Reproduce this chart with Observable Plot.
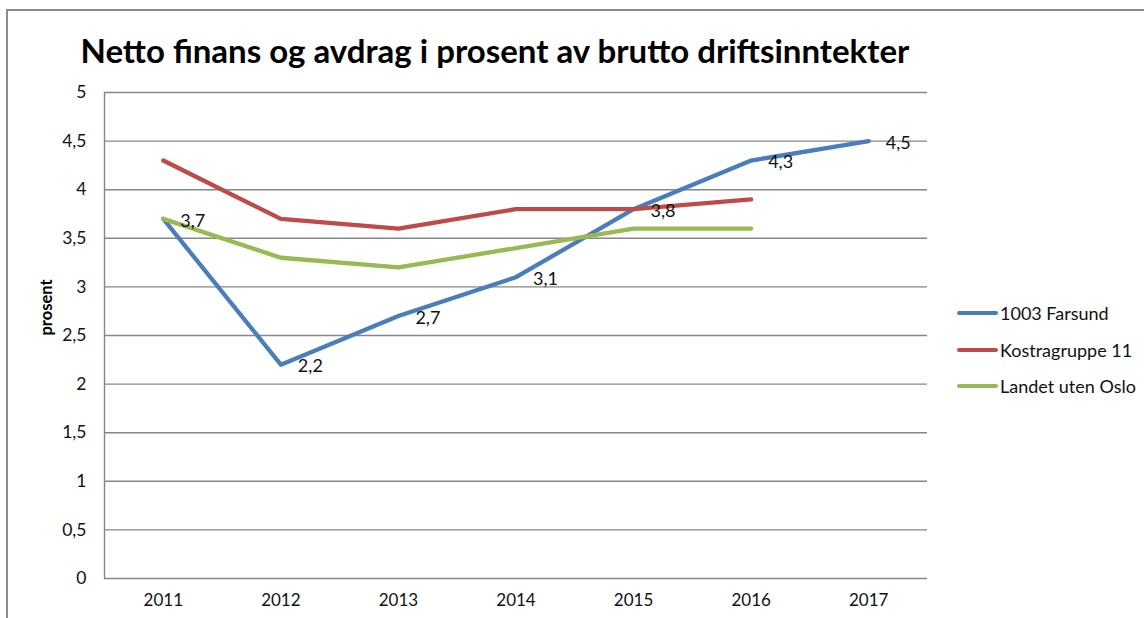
<!DOCTYPE html>
<html>
<head>
<meta charset="utf-8">
<script src="https://cdn.jsdelivr.net/npm/d3@7"></script>
<script src="https://cdn.jsdelivr.net/npm/@observablehq/plot@0.6"></script>
<style>
  html, body { margin: 0; padding: 0; background: #fff; }
  #wrap { position: relative; width: 1144px; height: 618px; overflow: hidden; font-family: Lato, "Open Sans", sans-serif; }
  #border { position: absolute; left: 6px; top: 9px; width: 1200px; height: 700px; border-left: 2px solid #8a8a8a; border-top: 2px solid #8a8a8a; box-sizing: border-box; }
  #chart { position: absolute; left: 0; top: 0; }
  #legend { position: absolute; left: 957px; top: 295px; font-size: 18px; color: #111; white-space: nowrap; }
  .item { display: flex; align-items: center; height: 36.5px; }
  .sw { width: 41px; height: 4px; border-radius: 2px; margin-right: 2px; }
</style>
</head>
<body>
<div id="wrap">
  <div id="border"></div>
  <div id="chart"></div>
  <div id="legend"></div>
</div>
<script>
const titleText = "Netto finans og avdrag i prosent av brutto driftsinntekter";
const yLabel = "prosent";
const years = [2011, 2012, 2013, 2014, 2015, 2016, 2017];
const seriesNames = ["1003 Farsund", "Kostragruppe 11", "Landet uten Oslo"];
const seriesColors = ["#4A7EBB", "#BE4B48", "#98B954"];
const farsund = [3.7, 2.2, 2.7, 3.1, 3.8, 4.3, 4.5];
const kostra = [4.3, 3.7, 3.6, 3.8, 3.8, 3.9];
const landet = [3.7, 3.3, 3.2, 3.4, 3.6, 3.6];
const yTicks = [0, 0.5, 1, 1.5, 2, 2.5, 3, 3.5, 4, 4.5, 5];
const xDomain = [2010.5, 2017.5];

const allValues = [farsund, kostra, landet];
const rows = [];
allValues.forEach((vals, i) => vals.forEach((v, j) => rows.push({series: seriesNames[i], year: years[j], value: v})));
const farsundRows = rows.filter(d => d.series === seriesNames[0]);
const fmt = v => String(v).replace(".", ",");

const chart = Plot.plot({
  width: 1144,
  height: 618,
  marginLeft: 104,
  marginRight: 217,
  marginTop: 92,
  marginBottom: 40,
  style: {fontFamily: "Lato, 'Open Sans', sans-serif", fontSize: "16px", color: "#111", background: "transparent", overflow: "visible"},
  x: {domain: xDomain, ticks: years},
  y: {domain: [0, 5], ticks: yTicks},
  color: {domain: seriesNames, range: seriesColors},
  marks: [
    Plot.gridY(yTicks, {stroke: "#868686", strokeOpacity: 1, strokeWidth: 1.4}),
    Plot.ruleX([xDomain[0]], {y1: 0, y2: 5, stroke: "#868686", strokeWidth: 1.4}),
    Plot.axisY({ticks: yTicks, tickSize: 0, tickPadding: 18, tickFormat: fmt, label: null, fontSize: 17.5}),
    Plot.axisX({ticks: years, tickSize: 0, tickPadding: 15, tickFormat: d => String(d), label: null, fontSize: 17}),
    Plot.line(rows, {x: "year", y: "value", z: "series", stroke: "series", strokeWidth: 4.3, strokeLinejoin: "round", strokeLinecap: "round"}),
    Plot.text(farsundRows, {x: "year", y: "value", text: d => fmt(d.value), dx: 17, dy: 2, textAnchor: "start", fontSize: 18, fill: "#111"}),
    Plot.text([yLabel], {frameAnchor: "left", dx: -58, rotate: -90, fontWeight: "bold", fontSize: 16.5, fill: "#000"}),
    Plot.text([titleText], {frameAnchor: "top-left", dx: -24, dy: -53, textAnchor: "start", fontWeight: "bold", fontSize: 33, fill: "#000"})
  ]
});
document.getElementById("chart").appendChild(chart);

const legend = document.getElementById("legend");
seriesNames.forEach((name, i) => {
  const item = document.createElement("div");
  item.className = "item";
  const sw = document.createElement("div");
  sw.className = "sw";
  sw.style.background = seriesColors[i];
  const lab = document.createElement("span");
  lab.textContent = name;
  item.appendChild(sw);
  item.appendChild(lab);
  legend.appendChild(item);
});
</script>
</body>
</html>
